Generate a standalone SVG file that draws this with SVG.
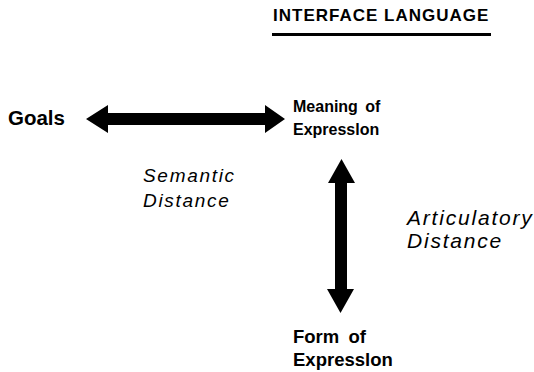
<svg xmlns="http://www.w3.org/2000/svg" width="534" height="372" viewBox="0 0 534 372">
<style>
.b{font-family:"Liberation Sans",Arial,sans-serif;font-weight:bold;fill:#000}
.i{font-family:"Liberation Sans",Arial,sans-serif;font-style:italic;fill:#000}
.arr{fill:#000}
</style>
<rect width="534" height="372" fill="#fff"/>
<g id="header">
<text class="b" x="273" y="21" font-size="17" letter-spacing="1">INTERFACE LANGUAGE</text>
<line x1="272" y1="34.5" x2="491" y2="34.5" stroke="#000" stroke-width="3"/>
</g>
<g id="goals"><text class="b" x="8" y="125" font-size="20.5">Goals</text></g>
<g id="meaning">
<text class="b" x="293" y="112" font-size="16" word-spacing="3">Meaning of</text>
<text class="b" x="293" y="135" font-size="16">Expresslon</text>
</g>
<g id="form">
<text class="b" x="293" y="343" font-size="18.5" word-spacing="4">Form of</text>
<text class="b" x="293" y="366" font-size="18.5">Expresslon</text>
</g>
<g id="connectors">
<polygon class="arr" points="86,119 108,105 108,113 265,113 265,105 285,119 265,133 265,125 108,125 108,133"/>
<polygon class="arr" points="341.5,159 355,183 347,183 347,289 354,289 340.5,313 327,289 335,289 335,183 328,183"/>
<text class="i" x="143" y="182" font-size="19" letter-spacing="1.7">Semantic</text>
<text class="i" x="143" y="207" font-size="19" letter-spacing="1.7">Distance</text>
<text class="i" x="407" y="225" font-size="21" letter-spacing="1.8">Articulatory</text>
<text class="i" x="407" y="248" font-size="21" letter-spacing="1.8">Distance</text>
</g>
</svg>
